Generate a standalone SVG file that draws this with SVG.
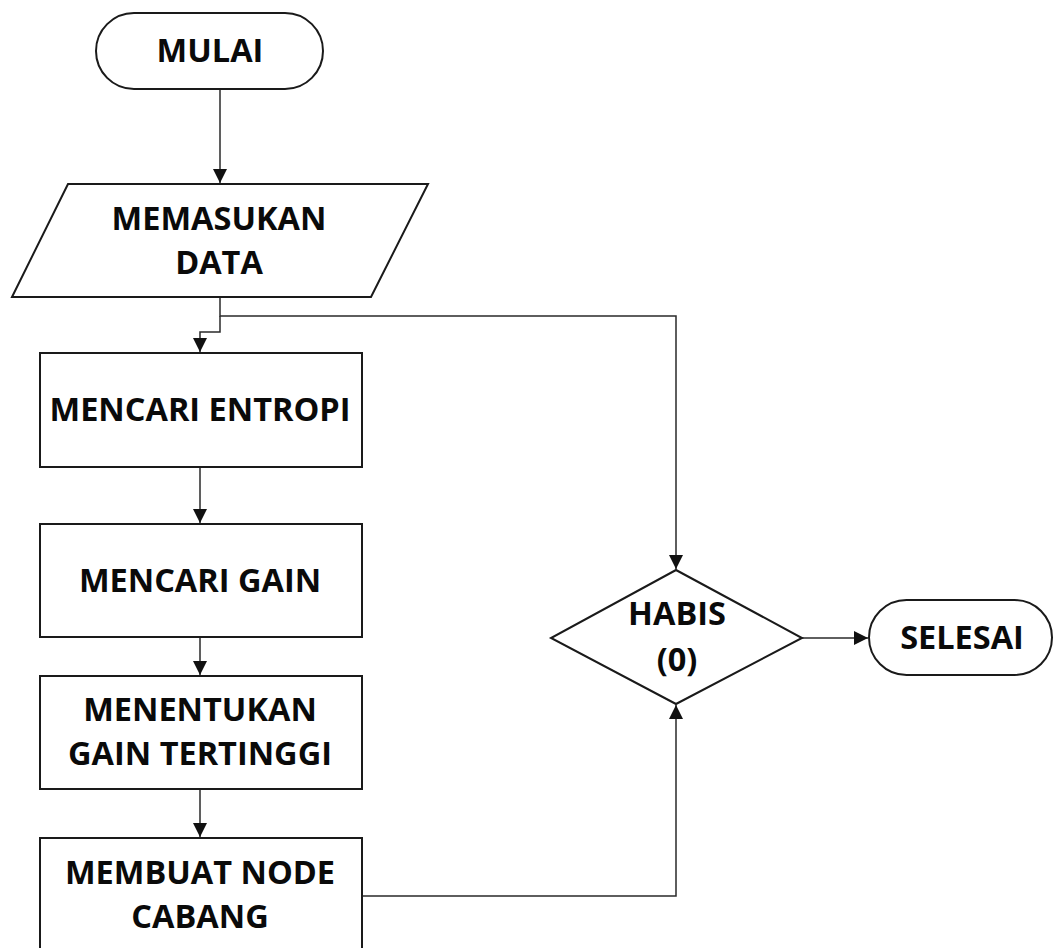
<svg xmlns="http://www.w3.org/2000/svg" width="1057" height="948" viewBox="0 0 1057 948">
<style>
.shape{fill:#fff;stroke:#1a1a1a;stroke-width:2}
.conn{fill:none;stroke:#2a2a2a;stroke-width:1.5}
.lbl{font-family:"Open Sans","Liberation Sans",sans-serif;font-weight:bold;font-size:32.5px;fill:#0a0a0a;text-anchor:middle}
</style>
<defs>
<marker id="arr" markerUnits="userSpaceOnUse" markerWidth="14" markerHeight="14" viewBox="0 0 14 14" refX="14" refY="7" orient="auto">
<path d="M0,0 L14,7 L0,14 Z" fill="#111"/>
</marker>
</defs>
<rect width="1057" height="948" fill="#fff"/>
<g id="connectors">
<path class="conn" d="M220,89 V183" marker-end="url(#arr)"/>
<path class="conn" d="M220,297 V316 H676 V569" marker-end="url(#arr)"/>
<path class="conn" d="M220,316 V332 H200 V352" marker-end="url(#arr)"/>
<path class="conn" d="M200,467 V523" marker-end="url(#arr)"/>
<path class="conn" d="M200,637 V675" marker-end="url(#arr)"/>
<path class="conn" d="M200,789 V837" marker-end="url(#arr)"/>
<path class="conn" d="M362,896 H676 V705" marker-end="url(#arr)"/>
<path class="conn" d="M802,638 H868" marker-end="url(#arr)"/>
</g>
<g id="mulai">
<rect class="shape" x="96" y="13" width="227" height="76" rx="38" ry="38"/>
<text class="lbl" x="210" y="62">MULAI</text>
</g>
<g id="memasukan">
<polygon class="shape" points="68,184 428,184 371,297 12,297"/>
<text class="lbl" x="219" y="230">MEMASUKAN</text>
<text class="lbl" x="219" y="274">DATA</text>
</g>
<g id="entropi">
<rect class="shape" x="40" y="353" width="322" height="114"/>
<text class="lbl" x="200" y="421">MENCARI ENTROPI</text>
</g>
<g id="gain">
<rect class="shape" x="40" y="524" width="322" height="113"/>
<text class="lbl" x="200" y="592">MENCARI GAIN</text>
</g>
<g id="tertinggi">
<rect class="shape" x="40" y="676" width="322" height="113"/>
<text class="lbl" x="200" y="721">MENENTUKAN</text>
<text class="lbl" x="200" y="765">GAIN TERTINGGI</text>
</g>
<g id="cabang">
<rect class="shape" x="40" y="838" width="322" height="130"/>
<text class="lbl" x="200" y="884">MEMBUAT NODE</text>
<text class="lbl" x="200" y="928">CABANG</text>
</g>
<g id="habis">
<polygon class="shape" points="676,570 802,638 676,704 551,638"/>
<text class="lbl" x="677" y="625">HABIS</text>
<text class="lbl" x="677" y="671">(0)</text>
</g>
<g id="selesai">
<rect class="shape" x="869" y="600" width="183" height="75" rx="37.5" ry="37.5"/>
<text class="lbl" x="962" y="649">SELESAI</text>
</g>
</svg>
